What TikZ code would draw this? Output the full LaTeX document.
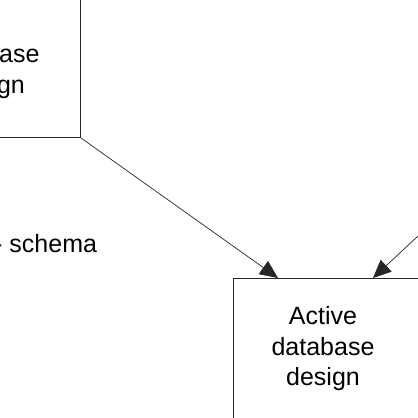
\documentclass[tikz,border=0pt]{standalone}
\usepackage{fontspec}
\setmainfont{Liberation Sans}
\usetikzlibrary{arrows.meta,positioning}

\begin{document}
\begin{tikzpicture}[
                x=1pt,
                y=-1pt,
                block/.style={
                    rectangle,
                    draw=black!85,
                    line width=0.9pt,
                    inner sep=0pt
                },
                caption/.style={
                    align=center,
                    inner sep=0pt,
                    font=\fontsize{25}{30.5}\selectfont
                },
                line/.style={
                    draw=black!85,
                    line width=0.7pt,
                    -{Triangle[length=18pt,width=16pt]}
                }]

                \useasboundingbox (0,0) rectangle (418,418);

                \node [block, anchor=south east, minimum width=200pt, minimum height=200pt] (dbdesign) at (81,138) {};
                \node [caption] (dbdesign_text) at (-12,71.5) {database\\design};

                \node [block, anchor=north west, minimum width=220pt, minimum height=180pt] (active) at (233,278) {};
                \node [caption] (active_text) at (323,348.6) {Active\\database\\design};

                \node [caption, anchor=base west] (schema) at (-6,252.7) {- schema};

                \coordinate (rightsource) at (463,194);

                \draw [line] (dbdesign.south east) -- ([xshift=45pt]active.north west);
                \draw [line] (rightsource) -- ([xshift=140pt]active.north west);

            \end{tikzpicture}
\end{document}
